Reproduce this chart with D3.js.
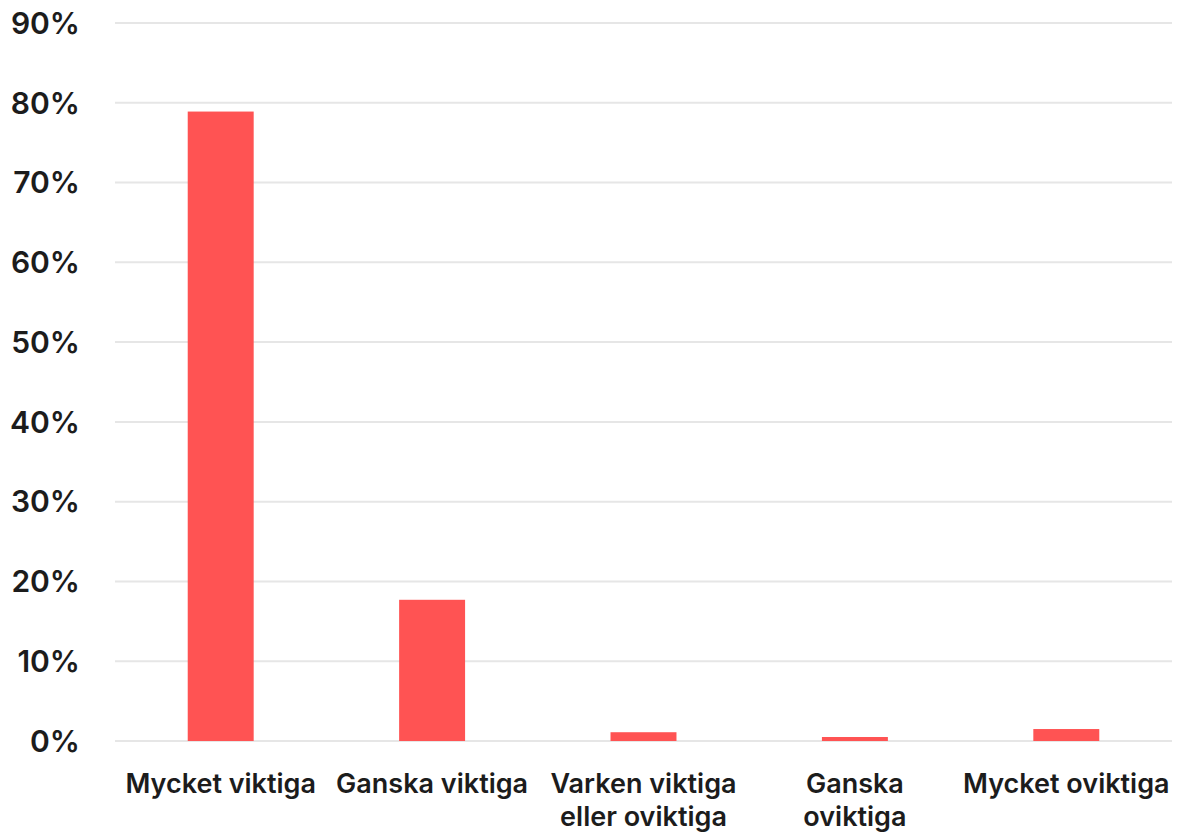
<!DOCTYPE html>
<html>
<head>
<meta charset="utf-8">
<script src="https://cdn.jsdelivr.net/npm/d3@7"></script>
<style>
  body { margin: 0; background: #fff; }
  .tick-label { font-family: Inter, "Open Sans", sans-serif; font-weight: 600; fill: #1c1c1c; }
</style>
</head>
<body>
<div id="chart"></div>
<script>
// Data
const categories = ['Mycket viktiga', 'Ganska viktiga', 'Varken viktiga eller oviktiga', 'Ganska oviktiga', 'Mycket oviktiga'];
const categoryLines = [['Mycket viktiga'], ['Ganska viktiga'], ['Varken viktiga', 'eller oviktiga'], ['Ganska', 'oviktiga'], ['Mycket oviktiga']];
const values = [78.9, 17.7, 1.1, 0.5, 1.5];
const yTicks = [0, 10, 20, 30, 40, 50, 60, 70, 80, 90];

const width = 1181, height = 834;
const margin = { top: 23, right: 9, bottom: 93, left: 115 };
const innerW = width - margin.left - margin.right;
const innerH = height - margin.top - margin.bottom;

const svg = d3.select('#chart').append('svg')
  .attr('width', width)
  .attr('height', height);

const g = svg.append('g').attr('transform', `translate(${margin.left},${margin.top})`);

const x = d3.scaleBand()
  .domain(categories)
  .range([0, innerW])
  .paddingInner(0.688)
  .paddingOuter(0.344);

const y = d3.scaleLinear().domain([0, 90]).range([innerH, 0]);

// gridlines
g.selectAll('.grid')
  .data(yTicks)
  .join('line')
    .attr('class', 'grid')
    .attr('x1', 0)
    .attr('x2', innerW)
    .attr('y1', d => y(d))
    .attr('y2', d => y(d))
    .attr('stroke', '#e6e6e6')
    .attr('stroke-width', 2);

// y labels
g.selectAll('.y-label')
  .data(yTicks)
  .join('text')
    .attr('class', 'tick-label y-label')
    .attr('x', -35)
    .attr('y', d => y(d))
    .attr('dy', '0.36em')
    .attr('text-anchor', 'end')
    .style('font-size', '30px')
    .text(d => d + '%');

// bars
g.selectAll('.bar')
  .data(values)
  .join('rect')
    .attr('class', 'bar')
    .attr('x', (d, i) => x(categories[i]))
    .attr('width', x.bandwidth())
    .attr('y', d => y(d))
    .attr('height', d => innerH - y(d))
    .attr('fill', '#ff5353');

// x labels
const xl = g.selectAll('.x-label')
  .data(categoryLines)
  .join('text')
    .attr('class', 'tick-label x-label')
    .attr('text-anchor', 'middle')
    .attr('transform', (d, i) => `translate(${x(categories[i]) + x.bandwidth() / 2},${innerH + 52})`)
    .style('font-size', '27px');

xl.selectAll('tspan')
  .data(d => d)
  .join('tspan')
    .attr('x', 0)
    .attr('dy', (d, i) => i === 0 ? 0 : 33)
    .text(d => d);
</script>
</body>
</html>
